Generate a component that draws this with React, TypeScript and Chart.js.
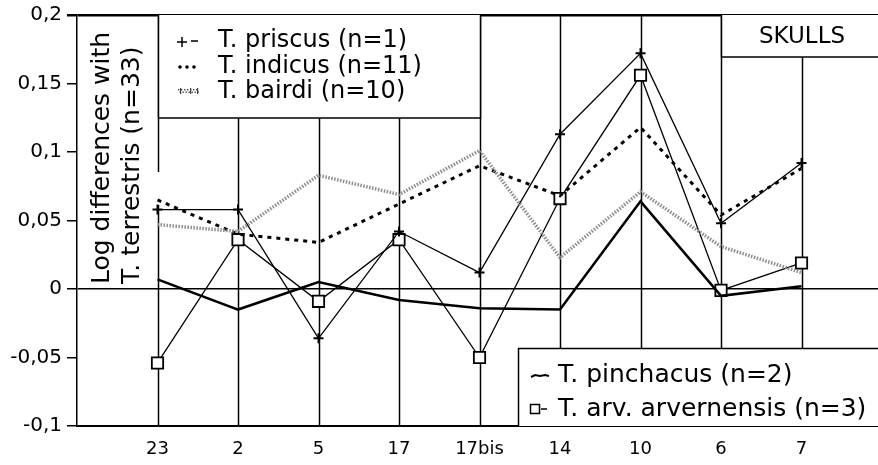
import React, { useEffect, useRef } from 'react';
import { Chart, registerables } from 'chart.js';
Chart.register(...registerables);

const categories = ['23', '2', '5', '17', '17bis', '14', '10', '6', '7'];
const priscus = [0.058, 0.058, -0.036, 0.042, 0.012, 0.113, 0.172, 0.048, 0.092];
const indicus = [0.065, 0.040, 0.034, 0.062, 0.090, 0.068, 0.118, 0.054, 0.088];
const bairdi = [0.047, 0.042, 0.083, 0.069, 0.101, 0.023, 0.071, 0.031, 0.012];
const pinchacus = [0.007, -0.015, 0.005, -0.008, -0.014, -0.015, 0.064, -0.005, 0.002];
const arvernensis = [-0.054, 0.036, -0.009, 0.036, -0.050, 0.066, 0.156, -0.001, 0.019];
const yTicks = [-0.1, -0.05, 0, 0.05, 0.1, 0.15, 0.2];
const yTickLabels = ['-0,1', '-0,05', '0', '0,05', '0,1', '0,15', '0,2'];
const legendTop = ['T. priscus (n=1)', 'T. indicus (n=11)', 'T. bairdi (n=10)'];
const legendBottom = ['T. pinchacus (n=2)', 'T. arv. arvernensis (n=3)'];
const yTitle = ['Log differences with', 'T. terrestris (n=33)'];
const boxTitle = 'SKULLS';

const FONT = '"DejaVu Sans", sans-serif';
const GREY = '#8c8c8c';

const toPts = (vals: number[]) => vals.map((v, i) => ({ x: i + 1, y: v }));

const overlay = {
  id: 'overlay',
  beforeDatasetsDraw(chart: any) {
    const { ctx, chartArea, scales } = chart;
    const x = scales.x;
    const top = chartArea.top;
    const bottom = chartArea.bottom;
    ctx.save();
    ctx.strokeStyle = '#000';
    ctx.lineWidth = 1.5;
    const segs: [number, number][][] = [
      [[top, 172], [205, bottom]],
      [[118, bottom]],
      [[118, bottom]],
      [[118, bottom]],
      [[top, bottom]],
      [[top, 348]],
      [[top, 348]],
      [[top, 348]],
      [[57, 348]],
    ];
    categories.forEach((_, i) => {
      const px = Math.round(x.getPixelForValue(i + 1)) + 0.5;
      segs[i].forEach(([a, b]) => {
        ctx.beginPath();
        ctx.moveTo(px, a);
        ctx.lineTo(px, b);
        ctx.stroke();
      });
    });
    ctx.restore();
  },
  afterDatasetsDraw(chart: any) {
    const { ctx, chartArea, scales } = chart;
    const x = scales.x;
    const top = chartArea.top;
    const right = chart.width;
    const bottom = chartArea.bottom;
    ctx.save();
    ctx.strokeStyle = '#000';
    ctx.fillStyle = '#000';
    ctx.lineWidth = 1.5;

    // top-left legend box
    const l1 = Math.round(x.getPixelForValue(1)) + 0.5;
    const r1 = Math.round(x.getPixelForValue(5)) + 0.5;
    ctx.fillStyle = '#fff';
    ctx.fillRect(l1, top, r1 - l1, 118 - top);
    ctx.beginPath();
    ctx.moveTo(l1, top); ctx.lineTo(l1, 118); ctx.lineTo(r1, 118); ctx.lineTo(r1, top);
    ctx.stroke();
    ctx.fillStyle = '#000';
    ctx.font = `24px ${FONT}`;
    ctx.textBaseline = 'middle';
    ctx.textAlign = 'left';
    const ly = [40, 66, 91];
    legendTop.forEach((t, i) => ctx.fillText(t, 218, ly[i] + 1));
    // markers
    ctx.beginPath();
    ctx.moveTo(177, 42); ctx.lineTo(187, 42);
    ctx.moveTo(182, 37); ctx.lineTo(182, 47);
    ctx.moveTo(191, 41); ctx.lineTo(198, 41);
    ctx.stroke();
    [180, 187, 194].forEach((cx) => { ctx.beginPath(); ctx.arc(cx, 67, 1.8, 0, Math.PI * 2); ctx.fill(); });
    ctx.fillStyle = '#444';
    for (let cx = 178; cx < 199; cx += 3) { ctx.fillRect(cx, 89, 1.4, 1.4); ctx.fillRect(cx + 1.5, 91.5, 1.4, 1.4); }
    ctx.fillRect(180, 88, 1.2, 6); ctx.fillRect(190, 88, 1.2, 6); ctx.fillRect(197, 88, 1.2, 6);
    ctx.fillStyle = '#000';

    // SKULLS box
    const l2 = Math.round(x.getPixelForValue(8)) + 0.5;
    ctx.fillStyle = '#fff';
    ctx.fillRect(l2, top, right - l2, 57 - top);
    ctx.beginPath();
    ctx.moveTo(l2, top); ctx.lineTo(l2, 57); ctx.lineTo(right, 57);
    ctx.stroke();
    ctx.fillStyle = '#000';
    ctx.font = `23px ${FONT}`;
    ctx.textAlign = 'center';
    ctx.fillText(boxTitle, 802, 37);

    // bottom-right legend box
    const l3 = 518.5;
    ctx.fillStyle = '#fff';
    ctx.fillRect(l3, 348, right - l3, bottom - 348);
    ctx.beginPath();
    ctx.moveTo(l3, bottom); ctx.lineTo(l3, 348.5); ctx.lineTo(right, 348.5);
    ctx.stroke();
    ctx.fillStyle = '#000';
    ctx.font = `25px ${FONT}`;
    ctx.textAlign = 'left';
    ctx.fillText(legendBottom[0], 558, 375);
    ctx.fillText(legendBottom[1], 558, 409);
    ctx.lineWidth = 2;
    ctx.beginPath();
    ctx.moveTo(531, 377); ctx.lineTo(535, 375); ctx.lineTo(540, 376); ctx.lineTo(545, 375); ctx.lineTo(549, 376);
    ctx.stroke();
    ctx.lineWidth = 1.5;
    ctx.strokeRect(530.5, 404.5, 9, 9);
    ctx.beginPath();
    ctx.moveTo(541, 409); ctx.lineTo(547, 409);
    ctx.stroke();

    // y-axis title
    ctx.font = `25px ${FONT}`;
    ctx.textAlign = 'left';
    ctx.textBaseline = 'alphabetic';
    ctx.save();
    ctx.translate(109, 284);
    ctx.rotate(-Math.PI / 2);
    ctx.fillText(yTitle[0], 0, 0);
    ctx.restore();
    ctx.save();
    ctx.translate(139, 284);
    ctx.rotate(-Math.PI / 2);
    ctx.fillText(yTitle[1], 0, 0);
    ctx.restore();

    ctx.restore();
  },
};

export default function App() {
  const ref = useRef<HTMLCanvasElement | null>(null);
  useEffect(() => {
    document.body.style.margin = '0';
    const canvas = ref.current!;
    const chart = new Chart(canvas, {
      type: 'line',
      data: {
        datasets: [
          {
            label: 'T. bairdi (n=10)',
            data: toPts(bairdi),
            borderColor: GREY,
            borderWidth: 3.5,
            borderDash: [1.5, 1.5],
            pointRadius: 0,
            tension: 0,
          },
          {
            label: 'T. indicus (n=11)',
            data: toPts(indicus),
            borderColor: '#000',
            borderWidth: 3,
            borderDash: [4, 5],
            pointRadius: 0,
            tension: 0,
          },
          {
            label: 'T. pinchacus (n=2)',
            data: toPts(pinchacus),
            borderColor: '#000',
            borderWidth: 2.5,
            pointRadius: 0,
            tension: 0,
          },
          {
            label: 'T. priscus (n=1)',
            data: toPts(priscus),
            borderColor: '#000',
            borderWidth: 1.3,
            pointStyle: 'cross',
            pointRadius: 5,
            pointBorderWidth: 2,
            pointBorderColor: '#000',
            tension: 0,
          },
          {
            label: 'T. arv. arvernensis (n=3)',
            data: toPts(arvernensis),
            borderColor: '#000',
            borderWidth: 1.3,
            pointStyle: 'rect',
            pointRadius: 8,
            pointBorderWidth: 1.8,
            pointBackgroundColor: '#fff',
            pointBorderColor: '#000',
            tension: 0,
          },
        ],
      },
      options: {
        responsive: false,
        animation: false,
        layout: { autoPadding: false, padding: { top: 15, right: 0, left: 0, bottom: 0 } },
        plugins: { legend: { display: false }, tooltip: { enabled: false } },
        scales: {
          x: {
            type: 'linear',
            min: 0,
            max: 9.95,
            afterBuildTicks: (s: any) => { s.ticks = categories.map((_, i) => ({ value: i + 1 })); },
            afterFit: (s: any) => { s.height = 39; s.paddingLeft = 0; s.paddingRight = 0; },
            grid: { display: false },
            border: { display: true, color: '#000', width: 2 },
            ticks: {
              autoSkip: false,
              maxRotation: 0,
              padding: 5,
              color: '#000',
              font: { family: FONT, size: 18 },
              callback: (v: any) => categories[Math.round(v) - 1] ?? '',
            },
          },
          y: {
            min: -0.1,
            max: 0.2,
            afterBuildTicks: (s: any) => { s.ticks = yTicks.map((v) => ({ value: v })); },
            afterFit: (s: any) => { s.width = 77; s.paddingTop = 0; s.paddingBottom = 0; },
            grid: {
              color: (c: any) => (c.tick && (Math.abs(c.tick.value) < 1e-9 || Math.abs(c.tick.value - 0.2) < 1e-9) ? '#000' : 'rgba(0,0,0,0)'),
              tickColor: '#000',
              tickLength: 10,
              lineWidth: (c: any) => (c.tick && Math.abs(c.tick.value - 0.2) < 1e-9 ? 2.5 : 1.5),
            },
            border: { display: true, color: '#000', width: 1.5 },
            ticks: {
              padding: 5,
              color: '#000',
              font: { family: FONT, size: 20 },
              callback: (_v: any, i: number) => yTickLabels[i],
            },
          },
        },
      },
      plugins: [overlay],
    } as any);
    return () => chart.destroy();
  }, []);
  return (
    <div style={{ position: 'fixed', left: 0, top: 0, width: 878, height: 465, background: '#fff' }}>
      <canvas ref={ref} width={878} height={465} />
    </div>
  );
}
